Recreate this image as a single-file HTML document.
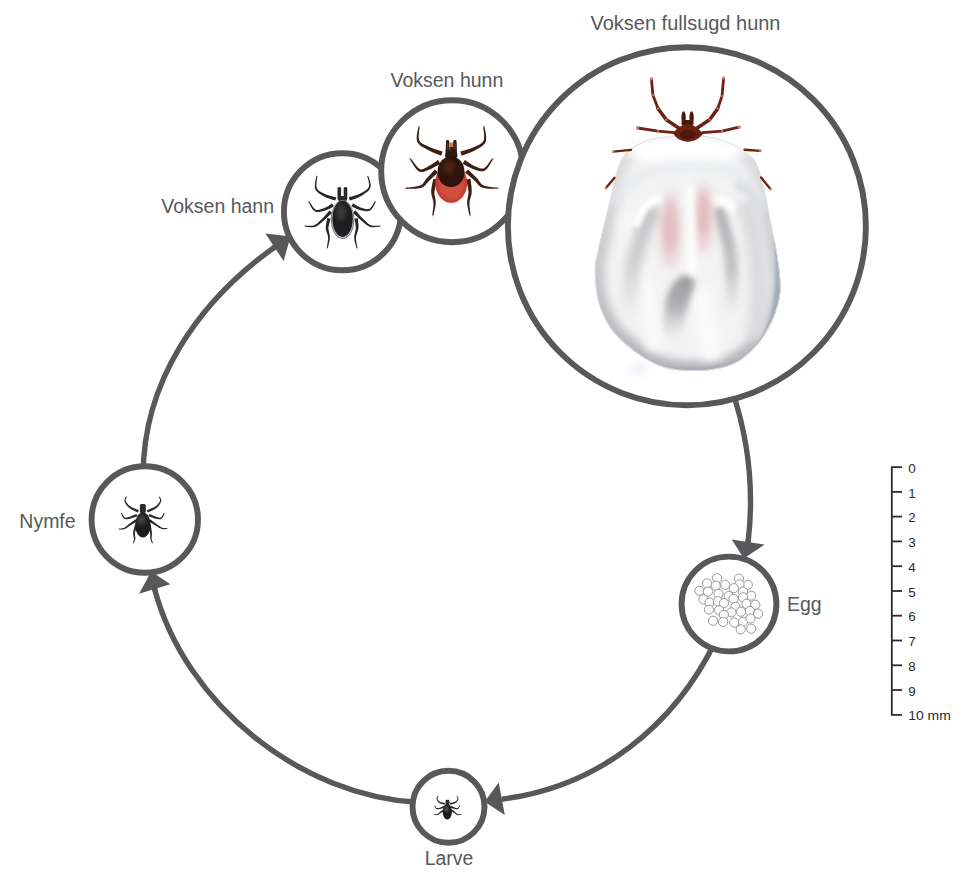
<!DOCTYPE html>
<html><head><meta charset="utf-8">
<style>
html,body{margin:0;padding:0;background:#fff;width:970px;height:879px;overflow:hidden}
svg{display:block}
text{font-family:"Liberation Sans",sans-serif;fill:#58585a}
</style></head><body>
<svg width="970" height="879" viewBox="0 0 970 879">
<g fill="none" stroke="#58585a" stroke-width="5.4">
<path d="M143.2,480.0 C141.3,383.4 198.2,301.4 274.6,247.2"/>
<path d="M154.6,589.0 C185.3,704.6 300.8,796.7 420.0,802.5"/>
<path d="M716.0,640.0 C674.6,726.2 597.9,787.2 501.7,799.2"/>
<path d="M732.0,390.0 C748.8,439.9 754.3,489.9 748.1,542.0"/>
</g>
<g stroke="#58585a" stroke-width="5.4">
<path d="M272.5,248.5 L280,243.5"/>
<path d="M155,590.5 L152.5,582"/>
<path d="M500.5,799 L493,800.5"/>
<path d="M748.5,539 L747,548"/>
</g>
<g fill="#58585a">
<polygon points="265.4,233.4 283.6,261 290.5,236.6"/>
<polygon points="139,593.8 170.3,584.3 151.3,571.5"/>
<polygon points="498.7,782.6 504.8,815.1 484.6,801.8"/>
<polygon points="731.7,539.5 764.5,544.6 743.8,558.5"/>
</g>
<g fill="#fff" stroke="#58585a" stroke-width="5.9">
<circle cx="144.8" cy="519.5" r="53.2"/>
<circle cx="448.5" cy="806.8" r="36"/>
<circle cx="729" cy="604" r="47.4"/>
<circle cx="342.4" cy="211.7" r="58.5"/>
<circle cx="452.2" cy="171.2" r="71"/>
<circle cx="686.9" cy="226.2" r="179"/>
</g>
<defs>
<clipPath id="bc"><path d="M689.0,135.7 C696.2,135.4 696.5,135.0 701.4,135.5 C706.3,136.0 713.1,137.2 718.4,138.7 C723.7,140.2 728.8,142.2 733.2,144.3 C737.6,146.4 741.2,148.7 744.6,151.2 C748.0,153.7 751.2,155.9 753.7,159.1 C756.2,162.3 757.9,166.7 759.4,170.5 C760.9,174.3 761.7,177.3 762.8,181.9 C763.9,186.5 765.1,192.1 766.2,197.8 C767.3,203.5 767.7,206.2 769.6,216.0 C771.5,225.8 775.8,244.2 777.6,256.7 C779.4,269.2 781.2,280.8 780.5,291.0 C779.8,301.2 777.1,309.4 773.5,318.0 C769.9,326.6 764.9,335.6 759.1,342.8 C753.3,350.0 746.1,356.8 738.5,361.3 C730.9,365.8 723.0,368.1 713.7,369.6 C704.4,371.2 692.1,371.3 682.8,370.6 C673.5,369.9 666.6,369.1 658.0,365.5 C649.4,361.9 639.1,355.2 631.2,349.0 C623.3,342.8 616.1,336.3 610.6,328.4 C605.1,320.5 600.8,311.1 598.2,301.5 C595.6,291.9 594.9,278.7 594.8,270.6 C594.6,262.5 595.6,261.4 597.3,253.1 C599.0,244.8 602.6,230.1 604.8,221.0 C607.0,211.9 608.9,205.1 610.5,198.3 C612.1,191.5 613.0,185.9 614.5,180.0 C616.0,174.1 617.4,167.7 619.6,163.0 C621.8,158.3 623.9,155.0 627.5,151.6 C631.1,148.2 636.1,144.9 641.2,142.5 C646.3,140.1 650.3,138.5 658.3,137.4 C666.3,136.3 681.8,136.0 689.0,135.7Z"/></clipPath>
<filter id="f1" filterUnits="userSpaceOnUse" x="0" y="0" width="970" height="879"><feGaussianBlur stdDeviation="1"/></filter>
<filter id="f2" filterUnits="userSpaceOnUse" x="0" y="0" width="970" height="879"><feGaussianBlur stdDeviation="2"/></filter>
<filter id="f3" filterUnits="userSpaceOnUse" x="0" y="0" width="970" height="879"><feGaussianBlur stdDeviation="3"/></filter>
<filter id="f5" filterUnits="userSpaceOnUse" x="0" y="0" width="970" height="879"><feGaussianBlur stdDeviation="5"/></filter>
<filter id="f8" filterUnits="userSpaceOnUse" x="0" y="0" width="970" height="879"><feGaussianBlur stdDeviation="8"/></filter>
</defs>
<path d="M640,360 C630,365 625,372 635,375 C645,377 650,370 640,360Z" fill="#eef3f8" filter="url(#f3)"/>
<linearGradient id="ge" gradientUnits="userSpaceOnUse" x1="0" y1="140" x2="0" y2="370"><stop offset="0" stop-color="#e0e0e3"/><stop offset="0.4" stop-color="#cfcfd2"/><stop offset="1" stop-color="#b3b1b5"/></linearGradient>
<linearGradient id="gl" gradientUnits="userSpaceOnUse" x1="0" y1="205" x2="0" y2="320"><stop offset="0" stop-color="#c2c2c5"/><stop offset="0.5" stop-color="#cdcdcf"/><stop offset="1" stop-color="#cfcfd1" stop-opacity="0"/></linearGradient>
<linearGradient id="gr" gradientUnits="userSpaceOnUse" x1="0" y1="205" x2="0" y2="315"><stop offset="0" stop-color="#b0b0b3"/><stop offset="0.6" stop-color="#c4c4c6"/><stop offset="1" stop-color="#cfcfd1" stop-opacity="0"/></linearGradient>
<linearGradient id="gc" gradientUnits="userSpaceOnUse" x1="0" y1="278" x2="0" y2="340"><stop offset="0" stop-color="#9e9ea1"/><stop offset="0.45" stop-color="#b0b0b3"/><stop offset="1" stop-color="#c5c5c8" stop-opacity="0"/></linearGradient>
<g clip-path="url(#bc)">
<rect x="590" y="130" width="200" height="250" fill="#f3f3f4"/>
<path d="M689.0,135.7 C696.2,135.4 696.5,135.0 701.4,135.5 C706.3,136.0 713.1,137.2 718.4,138.7 C723.7,140.2 728.8,142.2 733.2,144.3 C737.6,146.4 741.2,148.7 744.6,151.2 C748.0,153.7 751.2,155.9 753.7,159.1 C756.2,162.3 757.9,166.7 759.4,170.5 C760.9,174.3 761.7,177.3 762.8,181.9 C763.9,186.5 765.1,192.1 766.2,197.8 C767.3,203.5 767.7,206.2 769.6,216.0 C771.5,225.8 775.8,244.2 777.6,256.7 C779.4,269.2 781.2,280.8 780.5,291.0 C779.8,301.2 777.1,309.4 773.5,318.0 C769.9,326.6 764.9,335.6 759.1,342.8 C753.3,350.0 746.1,356.8 738.5,361.3 C730.9,365.8 723.0,368.1 713.7,369.6 C704.4,371.2 692.1,371.3 682.8,370.6 C673.5,369.9 666.6,369.1 658.0,365.5 C649.4,361.9 639.1,355.2 631.2,349.0 C623.3,342.8 616.1,336.3 610.6,328.4 C605.1,320.5 600.8,311.1 598.2,301.5 C595.6,291.9 594.9,278.7 594.8,270.6 C594.6,262.5 595.6,261.4 597.3,253.1 C599.0,244.8 602.6,230.1 604.8,221.0 C607.0,211.9 608.9,205.1 610.5,198.3 C612.1,191.5 613.0,185.9 614.5,180.0 C616.0,174.1 617.4,167.7 619.6,163.0 C621.8,158.3 623.9,155.0 627.5,151.6 C631.1,148.2 636.1,144.9 641.2,142.5 C646.3,140.1 650.3,138.5 658.3,137.4 C666.3,136.3 681.8,136.0 689.0,135.7Z" fill="none" stroke="url(#ge)" stroke-width="20" filter="url(#f5)"/>
<ellipse cx="686" cy="150" rx="60" ry="16" fill="#ffffff" filter="url(#f5)"/>
<path d="M612,205 C622,180 650,165 690,165 C730,165 752,177 762,205" fill="none" stroke="#e8eaec" stroke-width="8" filter="url(#f5)"/>
<path d="M745,200 C758,240 765,290 755,340" fill="none" stroke="#dcdcde" stroke-width="20" filter="url(#f5)"/>
<path d="M625,215 C640,250 650,300 655,350" fill="none" stroke="#f9f9f9" stroke-width="16" filter="url(#f5)"/>
<path d="M700,290 C705,315 710,340 712,360" fill="none" stroke="#fbfbfb" stroke-width="18" filter="url(#f5)"/>
<path d="M656.0,208.0 C654.2,211.2 648.1,219.8 645.0,227.0 C641.9,234.2 639.4,242.6 637.1,251.2 C634.8,259.8 632.6,266.0 631.3,278.3 C630.0,290.6 629.6,317.2 629.3,325.0" fill="none" stroke="url(#gl)" stroke-width="16" filter="url(#f5)"/>
<path d="M717.3,208.0 C718.4,211.3 722.0,220.8 724.1,228.0 C726.2,235.2 728.6,242.8 729.9,251.2 C731.2,259.6 731.4,267.7 731.8,278.3 C732.1,288.9 732.0,308.9 732.0,315.0" fill="none" stroke="url(#gr)" stroke-width="13" filter="url(#f3)"/>
<path d="M665.0,199.0 C662.8,199.4 655.8,199.5 652.0,201.5 C648.2,203.5 644.7,206.9 642.0,211.0 C639.3,215.1 637.0,223.5 636.0,226.0" fill="none" stroke="#ffffff" stroke-width="8" filter="url(#f2)"/>
<path d="M710.0,199.5 C712.3,199.8 720.0,199.8 724.0,201.5 C728.0,203.2 732.3,208.6 734.0,210.0" fill="none" stroke="#ffffff" stroke-width="8" filter="url(#f2)"/>
<path d="M735,185 C748,188 755,195 760,210" fill="none" stroke="#dcdee1" stroke-width="10" filter="url(#f3)"/>
<path d="M686,275 C678,275 669,287 666,301 C663,316 664,330 666,344 L681,344 C682,325 687,306 693,291 C696,281 694,275 686,275Z" fill="url(#gc)" filter="url(#f3)"/>
<ellipse cx="670" cy="230" rx="11" ry="38" fill="#ead0d5" filter="url(#f5)"/>
<ellipse cx="703" cy="218" rx="11" ry="35" fill="#ead0d5" filter="url(#f5)"/>
<ellipse cx="670" cy="228" rx="6" ry="24" fill="#e3bcc4" filter="url(#f3)"/>
<ellipse cx="703" cy="215" rx="6" ry="22" fill="#e3bcc4" filter="url(#f3)"/>
<path d="M690,185 L692,275" stroke="#ffffff" stroke-width="8" filter="url(#f3)"/>
<path d="M778,240 C783,295 776,332 751,357 C731,371 705,373 672,371" fill="none" stroke="#a5aeb7" stroke-width="8" filter="url(#f1)"/>
<path d="M689.0,135.7 C696.2,135.4 696.5,135.0 701.4,135.5 C706.3,136.0 713.1,137.2 718.4,138.7 C723.7,140.2 728.8,142.2 733.2,144.3 C737.6,146.4 741.2,148.7 744.6,151.2 C748.0,153.7 751.2,155.9 753.7,159.1 C756.2,162.3 757.9,166.7 759.4,170.5 C760.9,174.3 761.7,177.3 762.8,181.9 C763.9,186.5 765.1,192.1 766.2,197.8 C767.3,203.5 767.7,206.2 769.6,216.0 C771.5,225.8 775.8,244.2 777.6,256.7 C779.4,269.2 781.2,280.8 780.5,291.0 C779.8,301.2 777.1,309.4 773.5,318.0 C769.9,326.6 764.9,335.6 759.1,342.8 C753.3,350.0 746.1,356.8 738.5,361.3 C730.9,365.8 723.0,368.1 713.7,369.6 C704.4,371.2 692.1,371.3 682.8,370.6 C673.5,369.9 666.6,369.1 658.0,365.5 C649.4,361.9 639.1,355.2 631.2,349.0 C623.3,342.8 616.1,336.3 610.6,328.4 C605.1,320.5 600.8,311.1 598.2,301.5 C595.6,291.9 594.9,278.7 594.8,270.6 C594.6,262.5 595.6,261.4 597.3,253.1 C599.0,244.8 602.6,230.1 604.8,221.0 C607.0,211.9 608.9,205.1 610.5,198.3 C612.1,191.5 613.0,185.9 614.5,180.0 C616.0,174.1 617.4,167.7 619.6,163.0 C621.8,158.3 623.9,155.0 627.5,151.6 C631.1,148.2 636.1,144.9 641.2,142.5 C646.3,140.1 650.3,138.5 658.3,137.4 C666.3,136.3 681.8,136.0 689.0,135.7Z" fill="none" stroke="#e2e2e4" stroke-width="1.5"/>
</g>
<g stroke="#6c2313" stroke-linecap="round" stroke-linejoin="round" fill="none">
<path d="M678.7,128.0 L666.3,119.8 L658.0,108.5" stroke-width="3.6"/>
<path d="M697.2,128.0 L709.6,119.8 L717.8,108.5" stroke-width="3.6"/>
<path d="M658.0,108.5 L652.9,95.1 L651.4,79.0" stroke-width="2.8"/>
<path d="M717.8,108.5 L722.0,96.1 L723.6,78.1" stroke-width="2.8"/>
<path d="M674.5,132.6 L658.0,131.1 L637.8,128.0" stroke-width="2.9"/>
<path d="M702.4,132.6 L722.0,131.1 L739.1,127.2" stroke-width="2.9"/>
<path d="M631,149.9 L613.3,151.6" stroke-width="2.4"/>
<path d="M744.6,149.7 L760.1,150.9" stroke-width="2.4"/>
<path d="M614.5,177.8 L605.9,188" stroke-width="2.3"/>
<path d="M761.1,177.5 L770.4,188.9" stroke-width="2.3"/>
</g>
<g fill="#c8866a">
<circle cx="666.3" cy="119.8" r="1.1"/><circle cx="709.6" cy="119.8" r="1.1"/>
<circle cx="658.0" cy="108.5" r="1.1"/><circle cx="717.8" cy="108.5" r="1.1"/>
<circle cx="652.9" cy="95.1" r="1"/><circle cx="722.0" cy="96.1" r="1"/>
<circle cx="658.0" cy="131.1" r="1"/><circle cx="722.0" cy="131.1" r="1"/>
<circle cx="651.4" cy="79.0" r="1.5"/><circle cx="723.6" cy="78.1" r="1.5"/>
<circle cx="637.8" cy="128.0" r="1.4"/><circle cx="739.1" cy="127.2" r="1.4"/>
<circle cx="613.2" cy="151.7" r="1.3"/><circle cx="760.4" cy="150.9" r="1.3"/>
<circle cx="605.8" cy="188.2" r="1.2"/><circle cx="770.5" cy="189.2" r="1.2"/>
</g>
<g fill="#4e1709">
<ellipse cx="683.6" cy="117.3" rx="2.2" ry="6"/>
<ellipse cx="691.6" cy="117.3" rx="2.2" ry="6"/>
<rect x="681.5" y="120" width="12" height="6" rx="2"/>
</g>
<path d="M673.2,133.5 C676,129 681,125 687.8,124 C694.5,125 699.5,129 702.8,134 C700,138.5 694,141.5 687.8,141.8 C681.5,141.5 676,138.5 673.2,133.5Z" fill="#6b2211"/>
<ellipse cx="687.8" cy="134.5" rx="8" ry="4.5" fill="#4f160a"/>

<g><polygon points="336.3,197.4 335.4,197.1 334.1,196.8 332.6,196.4 331.0,196.0 329.3,195.6 327.6,195.1 326.1,194.5 324.8,193.9 323.5,193.3 322.3,192.7 321.1,192.1 320.0,191.4 319.0,190.7 318.1,189.9 317.4,189.0 316.9,188.1 316.6,186.9 316.4,185.4 316.5,183.6 316.6,181.8 316.9,180.0 317.1,178.3 317.3,176.9 317.4,175.9 316.4,175.7 316.2,176.7 316.0,178.1 315.6,179.8 315.2,181.6 315.0,183.5 314.8,185.4 314.8,187.1 315.1,188.7 315.7,190.0 316.6,191.2 317.6,192.3 318.7,193.2 319.9,194.0 321.1,194.8 322.4,195.5 323.6,196.3 325.0,197.0 326.7,197.7 328.4,198.3 330.1,198.9 331.7,199.5 333.2,199.9 334.4,200.3 335.3,200.6" fill="#262628"/>
<polygon points="349.8,200.6 350.6,200.3 351.7,200.0 353.0,199.5 354.5,199.0 356.1,198.4 357.7,197.8 359.2,197.0 360.6,196.3 362.0,195.4 363.4,194.6 364.8,193.6 366.2,192.6 367.6,191.5 368.8,190.4 369.7,189.1 370.4,187.7 370.7,186.1 370.7,184.4 370.4,182.7 369.9,180.9 369.4,179.3 368.9,177.8 368.4,176.6 368.2,175.7 367.2,175.9 367.4,176.9 367.8,178.1 368.2,179.7 368.6,181.3 368.9,183.0 369.1,184.6 369.1,186.0 368.8,187.1 368.2,188.0 367.3,189.0 366.2,189.9 365.0,190.8 363.6,191.7 362.1,192.5 360.7,193.2 359.4,193.9 358.1,194.6 356.6,195.1 355.1,195.6 353.6,196.1 352.1,196.5 350.8,196.8 349.6,197.1 348.8,197.4" fill="#262628"/>
<polygon points="332.0,203.4 331.5,203.7 330.8,204.2 330.1,204.7 329.3,205.3 328.5,205.9 327.5,206.5 326.6,207.0 325.6,207.4 324.5,207.8 323.2,208.4 321.9,208.9 320.5,209.3 319.2,209.7 317.9,209.9 316.8,209.9 315.9,209.7 315.0,209.2 314.0,208.3 313.0,207.1 312.0,205.7 311.1,204.3 310.3,203.0 309.7,201.9 309.1,201.1 308.3,201.7 308.7,202.5 309.3,203.6 310.0,205.0 310.8,206.5 311.7,208.0 312.7,209.4 313.8,210.6 315.1,211.5 316.5,211.9 318.0,212.0 319.6,211.9 321.1,211.6 322.6,211.2 324.1,210.8 325.4,210.4 326.6,210.0 327.8,209.6 328.9,209.1 330.0,208.5 331.0,208.0 331.9,207.4 332.7,206.9 333.3,206.5 333.8,206.2" fill="#262628"/>
<polygon points="351.4,206.3 352.0,206.6 352.7,207.0 353.7,207.5 354.8,208.0 355.9,208.6 357.1,209.1 358.4,209.6 359.6,210.0 360.8,210.3 362.0,210.6 363.4,210.8 364.7,211.1 366.1,211.2 367.5,211.2 368.8,211.0 370.0,210.5 371.1,209.7 372.1,208.6 372.9,207.3 373.7,206.0 374.4,204.6 375.0,203.4 375.4,202.4 375.8,201.7 375.0,201.1 374.5,201.8 373.9,202.8 373.3,204.0 372.5,205.3 371.7,206.5 370.8,207.6 370.0,208.4 369.2,208.9 368.4,209.1 367.4,209.2 366.3,209.1 365.1,208.9 363.9,208.5 362.7,208.2 361.5,207.8 360.4,207.4 359.4,207.0 358.3,206.5 357.3,206.0 356.2,205.3 355.3,204.7 354.4,204.2 353.6,203.7 353.0,203.3" fill="#262628"/>
<polygon points="329.7,210.4 329.0,211.1 328.2,212.1 327.1,213.3 326.0,214.5 324.8,215.9 323.6,217.2 322.4,218.4 321.4,219.4 320.4,220.3 319.5,221.3 318.6,222.1 317.7,222.9 316.9,223.7 316.0,224.3 315.2,224.8 314.2,225.3 313.2,225.6 311.9,225.7 310.6,225.8 309.2,225.8 307.9,225.7 306.6,225.7 305.6,225.6 304.8,225.6 304.8,226.6 305.5,226.7 306.5,226.8 307.8,227.0 309.1,227.1 310.6,227.2 312.0,227.3 313.4,227.2 314.8,226.9 315.9,226.5 317.0,225.9 318.1,225.3 319.1,224.5 320.1,223.8 321.0,222.9 322.0,222.1 323.0,221.2 324.2,220.2 325.5,219.1 326.8,217.9 328.1,216.6 329.3,215.4 330.5,214.4 331.4,213.5 332.1,212.8" fill="#262628"/>
<polygon points="353.0,212.8 353.7,213.5 354.6,214.4 355.8,215.4 357.0,216.6 358.3,217.9 359.6,219.1 360.9,220.2 362.1,221.2 363.1,222.1 364.1,222.9 365.0,223.8 366.0,224.5 367.0,225.3 368.1,225.9 369.2,226.5 370.3,226.9 371.7,227.2 373.1,227.3 374.5,227.2 376.0,227.1 377.3,227.0 378.6,226.8 379.6,226.7 380.3,226.6 380.3,225.6 379.5,225.6 378.5,225.7 377.2,225.7 375.9,225.8 374.5,225.8 373.2,225.7 371.9,225.6 370.9,225.3 369.9,224.8 369.1,224.3 368.2,223.7 367.4,222.9 366.5,222.1 365.6,221.3 364.7,220.3 363.7,219.4 362.7,218.4 361.5,217.2 360.3,215.9 359.1,214.5 358.0,213.3 356.9,212.1 356.1,211.1 355.4,210.4" fill="#262628"/>
<polygon points="327.3,218.0 327.2,218.7 327.0,219.7 326.7,220.9 326.4,222.2 326.2,223.7 326.0,225.1 325.8,226.6 325.8,228.0 325.9,229.4 326.2,230.7 326.6,231.9 327.0,233.1 327.4,234.3 327.7,235.4 328.0,236.6 328.1,237.7 328.1,239.0 327.9,240.4 327.7,241.9 327.5,243.5 327.2,244.9 327.0,246.2 326.8,247.4 326.6,248.2 327.6,248.4 327.8,247.6 328.1,246.5 328.5,245.2 328.8,243.8 329.2,242.2 329.6,240.7 329.8,239.1 329.9,237.7 329.9,236.3 329.7,235.0 329.4,233.7 329.1,232.5 328.8,231.3 328.6,230.1 328.4,229.0 328.4,228.0 328.5,226.9 328.8,225.6 329.1,224.3 329.4,223.0 329.8,221.7 330.1,220.5 330.4,219.5 330.7,218.8" fill="#262628"/>
<polygon points="354.4,218.6 354.5,219.4 354.7,220.4 355.0,221.5 355.2,222.8 355.4,224.1 355.6,225.5 355.7,226.8 355.8,227.9 355.7,229.0 355.5,230.1 355.3,231.3 355.0,232.5 354.7,233.7 354.4,235.0 354.2,236.3 354.2,237.7 354.3,239.1 354.6,240.7 354.9,242.2 355.3,243.8 355.7,245.2 356.1,246.5 356.4,247.6 356.6,248.4 357.6,248.2 357.4,247.4 357.2,246.2 356.9,244.9 356.6,243.5 356.4,241.9 356.2,240.4 356.0,239.0 356.0,237.7 356.1,236.6 356.4,235.4 356.7,234.3 357.1,233.1 357.5,231.9 357.9,230.7 358.2,229.4 358.4,228.1 358.5,226.7 358.5,225.3 358.4,223.8 358.2,222.4 358.1,221.1 358.0,219.9 357.9,218.9 357.8,218.2" fill="#262628"/>
<rect x="337.5" y="187" width="3.6" height="13" rx="1.5" fill="#2a2a2c"/>
<rect x="343.7" y="187" width="3.6" height="13" rx="1.5" fill="#2a2a2c"/>
<rect x="338.5" y="196" width="8" height="6" fill="#2a2a2c"/>
<ellipse cx="342.6" cy="219.6" rx="11.7" ry="19.4" fill="#6e6e70"/>
<ellipse cx="342.6" cy="219.3" rx="10.9" ry="18.7" fill="#c8c8ca"/>
<ellipse cx="342.6" cy="218.8" rx="10.2" ry="18.1" fill="#1e1e20"/>
<ellipse cx="341" cy="212" rx="5" ry="8" fill="#3a3a3c" filter="url(#f2)"/>
</g>
<g><polygon points="442.7,151.6 441.6,151.3 440.1,150.8 438.3,150.2 436.4,149.6 434.4,148.9 432.4,148.2 430.6,147.5 428.9,146.7 427.4,146.0 425.9,145.3 424.4,144.7 423.0,144.0 421.8,143.3 420.7,142.5 419.9,141.6 419.3,140.6 418.9,139.3 418.7,137.5 418.7,135.5 418.9,133.4 419.1,131.3 419.4,129.3 419.6,127.7 419.7,126.5 418.5,126.3 418.3,127.5 418.0,129.1 417.6,131.0 417.2,133.1 416.8,135.3 416.7,137.5 416.7,139.6 417.1,141.4 417.9,143.0 419.0,144.3 420.2,145.4 421.6,146.4 423.0,147.2 424.5,148.0 426.0,148.8 427.5,149.7 429.1,150.6 431.0,151.5 433.0,152.4 435.0,153.2 436.9,154.0 438.6,154.7 440.1,155.3 441.1,155.8" fill="#3b1f16"/>
<polygon points="461.7,155.8 462.9,155.3 464.4,154.7 466.3,154.0 468.4,153.2 470.5,152.4 472.6,151.5 474.6,150.5 476.3,149.6 477.8,148.8 479.2,148.0 480.6,147.2 481.9,146.3 483.1,145.3 484.2,144.2 485.1,142.9 485.8,141.4 486.1,139.6 486.2,137.5 486.0,135.4 485.7,133.1 485.3,131.0 484.9,129.1 484.6,127.5 484.4,126.3 483.2,126.5 483.3,127.7 483.5,129.3 483.7,131.2 484.0,133.4 484.1,135.5 484.1,137.5 484.0,139.3 483.6,140.6 483.0,141.6 482.3,142.5 481.4,143.3 480.3,144.0 479.1,144.7 477.8,145.4 476.4,146.1 474.9,146.8 473.2,147.5 471.3,148.2 469.2,148.9 467.1,149.6 465.0,150.2 463.1,150.8 461.5,151.3 460.3,151.6" fill="#3b1f16"/>
<polygon points="438.1,160.0 437.2,160.6 436.1,161.4 434.7,162.3 433.2,163.3 431.7,164.3 430.2,165.3 428.8,166.1 427.5,166.8 426.3,167.4 425.1,168.0 424.1,168.5 423.1,169.0 422.2,169.3 421.4,169.4 420.6,169.3 419.7,169.0 418.7,168.3 417.4,167.1 416.1,165.6 414.7,163.8 413.4,162.0 412.2,160.3 411.2,158.9 410.5,158.0 409.5,158.6 410.2,159.7 411.0,161.1 412.1,162.9 413.2,164.8 414.5,166.8 415.8,168.5 417.1,170.1 418.5,171.2 419.9,171.8 421.3,172.1 422.7,172.0 424.0,171.7 425.2,171.3 426.4,170.8 427.6,170.3 428.9,169.8 430.3,169.2 431.9,168.4 433.6,167.6 435.3,166.6 436.9,165.8 438.3,164.9 439.5,164.3 440.3,163.8" fill="#3b1f16"/>
<polygon points="462.6,163.8 463.6,164.3 464.8,165.0 466.4,165.8 468.1,166.7 469.9,167.6 471.7,168.5 473.5,169.3 475.0,169.8 476.4,170.2 477.6,170.6 478.9,170.9 480.1,171.2 481.4,171.3 482.7,171.2 484.0,170.9 485.3,170.2 486.6,169.2 487.8,167.7 489.0,166.1 490.1,164.3 491.1,162.5 492.1,160.9 492.8,159.6 493.4,158.6 492.4,158.0 491.7,158.9 490.8,160.2 489.8,161.7 488.6,163.3 487.4,164.9 486.2,166.4 485.0,167.5 484.1,168.2 483.2,168.5 482.4,168.6 481.5,168.6 480.6,168.5 479.6,168.2 478.6,167.8 477.4,167.3 476.2,166.8 474.8,166.2 473.3,165.4 471.7,164.4 470.0,163.4 468.4,162.3 467.0,161.4 465.7,160.6 464.8,160.0" fill="#3b1f16"/>
<polygon points="434.8,169.4 434.2,170.1 433.4,171.0 432.4,172.1 431.4,173.2 430.2,174.5 429.1,175.7 428.0,176.9 427.0,178.0 426.0,179.1 425.2,180.3 424.5,181.3 423.9,182.3 423.2,183.2 422.5,184.0 421.6,184.7 420.5,185.3 419.1,185.8 417.2,186.3 415.0,186.7 412.7,186.9 410.5,187.2 408.4,187.4 406.7,187.5 405.5,187.7 405.5,188.9 406.8,188.9 408.5,188.8 410.6,188.8 412.9,188.8 415.2,188.7 417.5,188.5 419.6,188.2 421.5,187.7 423.0,187.0 424.2,186.1 425.3,185.2 426.2,184.2 427.0,183.1 427.8,182.2 428.6,181.2 429.4,180.4 430.5,179.4 431.7,178.3 432.9,177.2 434.1,176.0 435.3,175.0 436.4,174.0 437.3,173.2 438.0,172.6" fill="#3b1f16"/>
<polygon points="465.0,172.6 465.8,173.3 466.8,174.1 468.0,175.0 469.3,176.1 470.7,177.2 472.0,178.4 473.3,179.4 474.4,180.4 475.3,181.3 476.1,182.2 476.9,183.1 477.7,184.2 478.6,185.2 479.7,186.1 480.9,187.0 482.4,187.7 484.3,188.1 486.4,188.5 488.7,188.7 491.0,188.8 493.2,188.8 495.3,188.8 497.0,188.8 498.3,188.9 498.3,187.7 497.1,187.5 495.4,187.4 493.3,187.2 491.1,187.0 488.9,186.7 486.7,186.3 484.8,185.9 483.4,185.3 482.3,184.7 481.4,184.0 480.7,183.2 480.0,182.3 479.3,181.3 478.6,180.3 477.8,179.1 476.8,178.0 475.7,176.9 474.5,175.7 473.2,174.4 471.9,173.2 470.7,172.0 469.6,170.9 468.7,170.0 468.0,169.4" fill="#3b1f16"/>
<polygon points="433.4,178.7 433.2,179.7 432.9,181.0 432.5,182.6 432.1,184.4 431.8,186.3 431.5,188.2 431.2,190.1 431.2,191.8 431.3,193.5 431.5,195.0 431.9,196.4 432.3,197.8 432.7,199.0 433.0,200.3 433.3,201.6 433.4,202.9 433.5,204.4 433.4,206.1 433.2,208.0 433.0,209.8 432.7,211.6 432.5,213.2 432.3,214.5 432.2,215.5 433.4,215.7 433.6,214.7 433.9,213.4 434.3,211.8 434.6,210.1 435.0,208.2 435.4,206.4 435.6,204.6 435.8,202.9 435.7,201.3 435.6,199.8 435.3,198.4 435.0,197.0 434.7,195.7 434.5,194.5 434.4,193.2 434.4,192.0 434.6,190.5 435.0,188.9 435.4,187.1 435.9,185.3 436.4,183.6 436.9,182.1 437.4,180.7 437.6,179.7" fill="#3b1f16"/>
<polygon points="466.1,179.6 466.3,180.6 466.6,181.9 467.0,183.5 467.4,185.2 467.8,187.0 468.1,188.8 468.3,190.4 468.5,191.9 468.5,193.2 468.3,194.5 468.1,195.7 467.8,197.1 467.6,198.4 467.3,199.8 467.2,201.3 467.1,202.9 467.3,204.6 467.5,206.4 467.9,208.2 468.2,210.1 468.6,211.8 469.0,213.4 469.3,214.7 469.5,215.7 470.7,215.5 470.6,214.5 470.4,213.2 470.2,211.6 469.9,209.8 469.7,208.0 469.5,206.1 469.5,204.4 469.5,202.9 469.6,201.6 469.8,200.3 470.2,199.0 470.6,197.7 471.0,196.4 471.3,195.0 471.6,193.5 471.7,191.9 471.7,190.2 471.6,188.3 471.5,186.4 471.2,184.5 471.0,182.7 470.8,181.1 470.6,179.8 470.5,178.8" fill="#3b1f16"/>
<path d="M446,141.5 C446,139.5 449,139.5 449.3,141.5 L449.5,150 L453,150 L453.2,141.5 C453.5,139.5 456.6,139.5 456.6,141.5 L457,153 C458,155 457.5,158 455,159 L447.5,159 C445,158 444.5,155 445.5,153Z" fill="#2e1812"/>
<rect x="449.5" y="142.5" width="3.5" height="4.5" rx="1" fill="#c08038"/><rect x="449.5" y="147" width="3.5" height="4" fill="#3a2018"/>
<ellipse cx="447.6" cy="146" rx="0.8" ry="3.5" fill="#5a3a30"/><ellipse cx="455" cy="146" rx="0.8" ry="3.5" fill="#5a3a30"/>
<ellipse cx="451.2" cy="183" rx="15.9" ry="19.7" fill="#b9352b"/>
<ellipse cx="451.2" cy="184" rx="13.5" ry="17" fill="#d2503f" filter="url(#f2)"/>
<path d="M451,156.5 C459,157 464.5,163 464.5,172 C464.5,181 458,187 451,187 C444,187 437.5,181 437.5,172 C437.5,163 443,157 451,156.5Z" fill="#2e140c"/>
<ellipse cx="449" cy="167" rx="6" ry="7" fill="#4e2418" filter="url(#f2)"/>
<g fill="#e0a090"><circle cx="419.1" cy="126.4" r="0.9"/><circle cx="483.8" cy="126.4" r="0.9"/><circle cx="410" cy="158.3" r="0.9"/><circle cx="492.9" cy="158.3" r="0.9"/><circle cx="405.5" cy="188.3" r="0.9"/><circle cx="498.3" cy="188.3" r="0.9"/><circle cx="432.8" cy="215.6" r="0.9"/><circle cx="470.1" cy="215.6" r="0.9"/></g>
</g>
<g><polygon points="138.9,510.2 138.2,509.9 137.2,509.5 136.0,509.1 134.8,508.5 133.4,508.0 132.2,507.4 131.1,506.8 130.2,506.3 129.4,505.7 128.6,505.0 127.9,504.3 127.3,503.5 126.8,502.8 126.3,502.1 126.0,501.4 125.7,500.8 125.6,500.3 125.7,499.8 125.8,499.2 126.0,498.7 126.3,498.1 126.6,497.6 126.9,497.2 127.0,496.8 126.2,496.4 126.0,496.7 125.8,497.1 125.4,497.6 125.1,498.2 124.8,498.8 124.5,499.6 124.4,500.3 124.5,501.2 124.7,501.9 125.1,502.8 125.5,503.6 126.1,504.5 126.7,505.3 127.4,506.2 128.2,507.0 129.0,507.7 130.0,508.5 131.2,509.2 132.5,509.9 133.8,510.6 135.1,511.2 136.2,511.8 137.2,512.2 137.9,512.6" fill="#2a2a2c"/>
<polygon points="147.8,512.6 148.5,512.2 149.5,511.8 150.7,511.2 151.9,510.6 153.3,509.9 154.6,509.2 155.8,508.5 156.8,507.7 157.6,507.0 158.4,506.2 159.1,505.3 159.7,504.4 160.2,503.6 160.6,502.7 161.0,501.9 161.2,501.1 161.3,500.3 161.2,499.6 160.9,498.8 160.6,498.2 160.2,497.6 159.9,497.1 159.7,496.7 159.5,496.4 158.7,496.8 158.8,497.1 159.1,497.6 159.4,498.1 159.7,498.7 159.9,499.2 160.0,499.8 160.1,500.3 160.0,500.9 159.8,501.4 159.4,502.1 159.0,502.8 158.4,503.6 157.8,504.3 157.1,505.0 156.4,505.7 155.6,506.3 154.7,506.8 153.6,507.4 152.3,508.0 151.0,508.5 149.7,509.1 148.5,509.5 147.5,509.9 146.8,510.2" fill="#2a2a2c"/>
<polygon points="136.5,513.9 135.9,514.2 135.0,514.5 133.9,515.0 132.8,515.5 131.6,516.0 130.5,516.5 129.4,516.8 128.6,517.1 127.9,517.3 127.2,517.5 126.7,517.6 126.2,517.7 125.8,517.7 125.5,517.7 125.2,517.6 124.8,517.4 124.5,517.1 124.0,516.6 123.6,515.9 123.1,515.2 122.7,514.4 122.4,513.7 122.0,513.1 121.8,512.7 121.0,513.1 121.2,513.5 121.5,514.1 121.8,514.9 122.1,515.7 122.5,516.5 122.9,517.3 123.4,518.0 124.0,518.6 124.5,518.9 125.1,519.2 125.7,519.3 126.3,519.3 126.9,519.3 127.6,519.2 128.3,519.0 129.0,518.9 130.0,518.7 131.1,518.4 132.3,518.0 133.6,517.6 134.8,517.2 135.9,516.8 136.8,516.5 137.5,516.3" fill="#2a2a2c"/>
<polygon points="148.3,516.3 149.0,516.5 149.9,516.8 151.0,517.2 152.2,517.6 153.4,518.0 154.6,518.4 155.7,518.7 156.7,518.9 157.4,519.0 158.1,519.2 158.8,519.3 159.4,519.3 160.0,519.3 160.7,519.2 161.2,518.9 161.8,518.6 162.4,518.0 162.9,517.3 163.3,516.5 163.6,515.7 164.0,514.9 164.3,514.1 164.5,513.5 164.7,513.1 163.9,512.7 163.7,513.1 163.4,513.7 163.0,514.4 162.6,515.2 162.2,515.9 161.8,516.6 161.3,517.1 161.0,517.4 160.6,517.6 160.3,517.7 159.9,517.7 159.5,517.7 159.0,517.6 158.5,517.5 157.8,517.3 157.1,517.1 156.3,516.8 155.3,516.5 154.1,516.0 153.0,515.5 151.8,515.0 150.8,514.5 149.9,514.2 149.3,513.9" fill="#2a2a2c"/>
<polygon points="135.5,519.2 134.9,519.7 134.1,520.3 133.2,521.0 132.1,521.7 131.1,522.5 130.0,523.3 129.1,524.0 128.3,524.6 127.6,525.2 127.0,525.7 126.5,526.1 126.0,526.5 125.6,526.9 125.1,527.2 124.7,527.5 124.2,527.7 123.6,528.0 122.9,528.1 122.1,528.3 121.3,528.4 120.5,528.5 119.8,528.5 119.2,528.6 118.8,528.7 118.8,529.5 119.3,529.5 119.9,529.5 120.6,529.5 121.4,529.5 122.2,529.5 123.1,529.4 123.9,529.2 124.6,529.1 125.3,528.8 125.9,528.5 126.4,528.2 127.0,527.8 127.5,527.4 128.0,527.0 128.6,526.6 129.3,526.2 130.2,525.6 131.2,525.0 132.3,524.3 133.4,523.6 134.5,522.9 135.5,522.3 136.3,521.8 136.9,521.4" fill="#2a2a2c"/>
<polygon points="148.8,521.4 149.4,521.7 150.2,522.3 151.2,522.9 152.2,523.6 153.4,524.3 154.5,525.0 155.5,525.6 156.4,526.2 157.2,526.6 157.9,527.1 158.6,527.5 159.2,527.9 159.9,528.2 160.5,528.6 161.2,528.8 161.9,529.0 162.7,529.2 163.5,529.2 164.3,529.2 165.1,529.1 165.8,529.0 166.4,529.0 166.9,528.9 167.3,528.8 167.3,528.0 166.9,528.0 166.3,528.0 165.7,528.0 165.0,528.0 164.3,528.0 163.6,528.0 162.9,527.9 162.3,527.8 161.7,527.5 161.2,527.3 160.6,526.9 160.1,526.6 159.5,526.1 158.8,525.7 158.1,525.2 157.4,524.6 156.6,524.0 155.6,523.3 154.6,522.5 153.5,521.7 152.5,521.0 151.6,520.3 150.8,519.7 150.2,519.2" fill="#2a2a2c"/>
<polygon points="135.0,525.0 134.8,525.6 134.6,526.4 134.3,527.3 134.0,528.4 133.7,529.5 133.4,530.6 133.2,531.7 133.1,532.7 133.1,533.6 133.2,534.5 133.3,535.4 133.5,536.2 133.7,536.9 133.9,537.6 134.0,538.2 134.0,538.8 134.0,539.3 133.9,540.0 133.7,540.6 133.5,541.2 133.3,541.7 133.2,542.3 133.0,542.7 132.9,543.0 133.7,543.4 133.9,543.0 134.0,542.6 134.3,542.1 134.5,541.6 134.8,540.9 135.0,540.3 135.2,539.6 135.4,538.8 135.4,538.1 135.3,537.3 135.2,536.6 135.1,535.8 135.0,535.1 134.9,534.3 134.9,533.6 134.9,532.9 135.1,532.1 135.4,531.1 135.7,530.1 136.1,529.1 136.5,528.1 136.9,527.2 137.2,526.4 137.4,525.8" fill="#2a2a2c"/>
<polygon points="148.2,525.7 148.4,526.3 148.6,527.0 148.9,528.0 149.1,529.0 149.4,530.0 149.7,531.1 149.9,532.0 150.1,532.9 150.2,533.7 150.2,534.4 150.2,535.2 150.2,535.9 150.2,536.7 150.2,537.4 150.2,538.2 150.3,538.9 150.5,539.6 150.7,540.3 151.0,541.0 151.2,541.6 151.5,542.1 151.7,542.6 151.9,543.0 152.1,543.4 152.9,543.0 152.8,542.7 152.6,542.3 152.5,541.7 152.3,541.2 152.1,540.6 151.9,539.9 151.7,539.3 151.7,538.7 151.6,538.1 151.7,537.5 151.7,536.8 151.8,536.0 151.9,535.3 151.9,534.4 152.0,533.6 151.9,532.7 151.9,531.7 151.7,530.7 151.5,529.6 151.4,528.5 151.2,527.4 151.0,526.5 150.9,525.7 150.8,525.1" fill="#2a2a2c"/>
<rect x="139.9" y="504" width="5.9" height="9" rx="1.5" fill="#2a2a2c"/>
<ellipse cx="142.9" cy="525" rx="7.8" ry="12.4" fill="#1c1c1e"/>
<ellipse cx="141.5" cy="520" rx="3.5" ry="5" fill="#4a4a4c" filter="url(#f2)"/>
</g>
<g><polygon points="445.1,802.9 444.6,802.8 444.0,802.7 443.2,802.6 442.4,802.4 441.5,802.2 440.7,802.0 440.1,801.8 439.5,801.5 439.1,801.3 438.8,800.9 438.4,800.6 438.2,800.2 437.9,799.8 437.7,799.4 437.6,799.0 437.5,798.6 437.4,798.3 437.5,798.0 437.6,797.6 437.8,797.2 438.0,796.8 438.1,796.5 438.3,796.2 438.4,796.0 437.8,795.6 437.7,795.8 437.5,796.1 437.3,796.5 437.0,796.9 436.8,797.3 436.6,797.8 436.5,798.3 436.5,798.8 436.6,799.2 436.8,799.7 436.9,800.2 437.2,800.8 437.5,801.3 437.9,801.8 438.3,802.2 438.9,802.7 439.5,803.0 440.3,803.4 441.1,803.7 442.0,803.9 442.8,804.2 443.6,804.4 444.2,804.5 444.7,804.7" fill="#2a2a2c"/>
<polygon points="450.2,804.7 450.7,804.5 451.3,804.4 452.1,804.2 452.9,803.9 453.8,803.7 454.6,803.4 455.4,803.0 456.0,802.7 456.6,802.2 457.0,801.8 457.4,801.3 457.7,800.8 458.0,800.3 458.2,799.7 458.4,799.3 458.5,798.8 458.5,798.3 458.4,797.8 458.2,797.3 458.0,796.9 457.7,796.5 457.5,796.1 457.3,795.8 457.2,795.6 456.6,796.0 456.7,796.2 456.9,796.5 457.0,796.8 457.2,797.2 457.4,797.6 457.5,798.0 457.6,798.3 457.5,798.6 457.4,799.0 457.3,799.4 457.1,799.8 456.8,800.2 456.5,800.6 456.2,800.9 455.8,801.3 455.4,801.5 454.8,801.8 454.1,802.0 453.4,802.2 452.5,802.4 451.7,802.6 450.9,802.7 450.3,802.8 449.8,802.9" fill="#2a2a2c"/>
<polygon points="444.1,805.8 443.7,805.9 443.2,806.2 442.6,806.5 442.0,806.8 441.4,807.1 440.7,807.4 440.1,807.6 439.6,807.7 439.2,807.9 438.7,808.0 438.3,808.1 437.9,808.1 437.5,808.1 437.2,808.1 436.9,808.1 436.7,808.0 436.4,807.8 436.2,807.5 436.0,807.2 435.7,806.8 435.5,806.3 435.3,805.9 435.2,805.6 435.0,805.3 434.4,805.7 434.5,805.9 434.6,806.2 434.8,806.7 435.0,807.1 435.2,807.6 435.4,808.1 435.7,808.5 436.1,808.8 436.6,809.0 437.0,809.2 437.5,809.3 437.9,809.3 438.4,809.3 438.9,809.2 439.4,809.1 440.0,809.1 440.6,808.9 441.2,808.7 441.9,808.5 442.6,808.2 443.3,808.0 443.9,807.8 444.4,807.6 444.7,807.4" fill="#2a2a2c"/>
<polygon points="450.3,807.4 450.6,807.6 451.1,807.8 451.7,808.0 452.4,808.2 453.1,808.5 453.8,808.7 454.5,808.9 455.0,809.0 455.5,809.1 455.9,809.2 456.3,809.2 456.8,809.3 457.2,809.3 457.5,809.2 457.9,809.0 458.3,808.8 458.6,808.5 458.9,808.1 459.2,807.6 459.4,807.1 459.6,806.7 459.8,806.2 459.9,805.9 460.0,805.7 459.4,805.3 459.2,805.6 459.1,805.9 458.9,806.3 458.6,806.8 458.4,807.2 458.1,807.5 457.9,807.8 457.7,808.0 457.5,808.1 457.3,808.1 457.1,808.1 456.8,808.1 456.5,808.1 456.2,808.0 455.8,807.9 455.4,807.8 454.9,807.6 454.3,807.4 453.7,807.1 453.0,806.8 452.4,806.5 451.8,806.2 451.3,805.9 450.9,805.8" fill="#2a2a2c"/>
<polygon points="443.3,809.4 443.0,809.6 442.6,809.9 442.0,810.3 441.5,810.7 440.9,811.2 440.4,811.6 439.8,812.0 439.4,812.4 439.0,812.7 438.7,813.0 438.5,813.3 438.2,813.5 438.0,813.7 437.8,813.9 437.6,814.0 437.4,814.1 437.0,814.2 436.6,814.2 436.2,814.3 435.7,814.3 435.2,814.3 434.8,814.3 434.4,814.2 434.1,814.3 434.1,814.9 434.3,815.0 434.7,815.0 435.1,815.1 435.6,815.1 436.2,815.2 436.7,815.2 437.2,815.2 437.6,815.1 438.1,815.0 438.4,814.8 438.7,814.6 439.0,814.4 439.3,814.1 439.5,813.9 439.8,813.7 440.2,813.4 440.6,813.1 441.2,812.8 441.8,812.4 442.4,812.0 443.0,811.7 443.5,811.3 444.0,811.0 444.3,810.8" fill="#2a2a2c"/>
<polygon points="450.7,810.8 451.0,811.0 451.5,811.3 452.0,811.7 452.6,812.0 453.2,812.4 453.8,812.8 454.4,813.2 454.8,813.4 455.1,813.7 455.4,813.9 455.7,814.1 456.0,814.4 456.2,814.6 456.6,814.8 456.9,815.0 457.4,815.1 457.9,815.2 458.4,815.2 459.0,815.2 459.6,815.1 460.2,815.1 460.7,815.0 461.1,815.0 461.4,814.9 461.4,814.3 461.1,814.2 460.6,814.3 460.1,814.3 459.6,814.3 459.0,814.3 458.5,814.2 458.0,814.2 457.6,814.1 457.4,814.0 457.2,813.8 457.0,813.7 456.8,813.5 456.5,813.3 456.3,813.0 456.0,812.7 455.6,812.4 455.2,812.0 454.6,811.6 454.1,811.2 453.5,810.7 453.0,810.3 452.4,809.9 452.0,809.6 451.7,809.4" fill="#2a2a2c"/>
<rect x="445.6" y="799.8" width="3.8" height="5.5" rx="1" fill="#2a2a2c"/>
<ellipse cx="447.3" cy="811.8" rx="4.6" ry="7.7" fill="#1c1c1e"/>
<ellipse cx="446.5" cy="809" rx="2" ry="3" fill="#555" filter="url(#f1)"/>
</g>
<g fill="#fdfdfd" stroke="#8e8e90" stroke-width="0.9"><circle cx="717.1" cy="578.2" r="4.6"/><circle cx="738.9" cy="578.6" r="4.6"/><circle cx="707.1" cy="583.4" r="4.6"/><circle cx="725.3" cy="584.8" r="4.6"/><circle cx="747.8" cy="584.8" r="4.6"/><circle cx="715.7" cy="585.7" r="4.6"/><circle cx="739.6" cy="584.4" r="4.6"/><circle cx="699.4" cy="590.8" r="4.6"/><circle cx="708.0" cy="591.6" r="4.6"/><circle cx="733.8" cy="588.2" r="4.6"/><circle cx="743.0" cy="591.6" r="4.6"/><circle cx="718.5" cy="593.9" r="4.6"/><circle cx="728.7" cy="596.0" r="4.6"/><circle cx="751.2" cy="595.7" r="4.6"/><circle cx="703.4" cy="599.4" r="4.6"/><circle cx="709.6" cy="602.5" r="4.6"/><circle cx="733.5" cy="598.7" r="4.6"/><circle cx="743.0" cy="597.3" r="4.6"/><circle cx="717.8" cy="601.2" r="4.6"/><circle cx="723.9" cy="603.1" r="4.6"/><circle cx="746.5" cy="603.9" r="4.6"/><circle cx="755.3" cy="604.8" r="4.6"/><circle cx="735.5" cy="606.9" r="4.6"/><circle cx="708.9" cy="609.6" r="4.6"/><circle cx="719.1" cy="610.3" r="4.6"/><circle cx="731.4" cy="612.4" r="4.6"/><circle cx="741.0" cy="611.7" r="4.6"/><circle cx="749.9" cy="611.0" r="4.6"/><circle cx="758.1" cy="613.7" r="4.6"/><circle cx="723.9" cy="614.8" r="4.6"/><circle cx="713.0" cy="620.8" r="4.6"/><circle cx="723.2" cy="621.9" r="4.6"/><circle cx="734.2" cy="622.6" r="4.6"/><circle cx="743.0" cy="621.9" r="4.6"/><circle cx="750.5" cy="618.5" r="4.6"/><circle cx="740.7" cy="629.4" r="4.6"/><circle cx="751.2" cy="628.7" r="4.6"/></g>
<g font-size="19.5">
<text x="590.5" y="30" textLength="190" lengthAdjust="spacingAndGlyphs">Voksen fullsugd hunn</text>
<text x="390.5" y="86.8">Voksen hunn</text>
<text x="161.3" y="213.3">Voksen hann</text>
<text x="19.3" y="527.9">Nymfe</text>
<text x="787" y="610.8">Egg</text>
<text x="424.7" y="865.3" textLength="48.5" lengthAdjust="spacingAndGlyphs">Larve</text>
</g>
<g stroke="#2c2c2e" stroke-width="1.8" fill="none"><path d="M902,467.1 H891.8 V714.8 H902"/><path d="M891.8,491.9 H902"/><path d="M891.8,516.6 H902"/><path d="M891.8,541.4 H902"/><path d="M891.8,566.2 H902"/><path d="M891.8,591.0 H902"/><path d="M891.8,615.7 H902"/><path d="M891.8,640.5 H902"/><path d="M891.8,665.3 H902"/><path d="M891.8,690.0 H902"/></g><g font-size="13.4"><text x="908.3" y="472.7" style="fill:#2c2c2e">0</text><text x="908.3" y="497.5" style="fill:#2c2c2e">1</text><text x="908.3" y="522.2" style="fill:#2c2c2e">2</text><text x="908.3" y="547.0" style="fill:#2c2c2e">3</text><text x="908.3" y="571.8" style="fill:#2c2c2e">4</text><text x="908.3" y="596.6" style="fill:#2c2c2e">5</text><text x="908.3" y="621.3" style="fill:#2c2c2e">6</text><text x="908.3" y="646.1" style="fill:#2c2c2e">7</text><text x="908.3" y="670.9" style="fill:#2c2c2e">8</text><text x="908.3" y="695.6" style="fill:#2c2c2e">9</text><text x="908.3" y="720.4" style="fill:#2c2c2e" textLength="42.5" lengthAdjust="spacingAndGlyphs">10 mm</text></g>
</svg>
</body></html>
